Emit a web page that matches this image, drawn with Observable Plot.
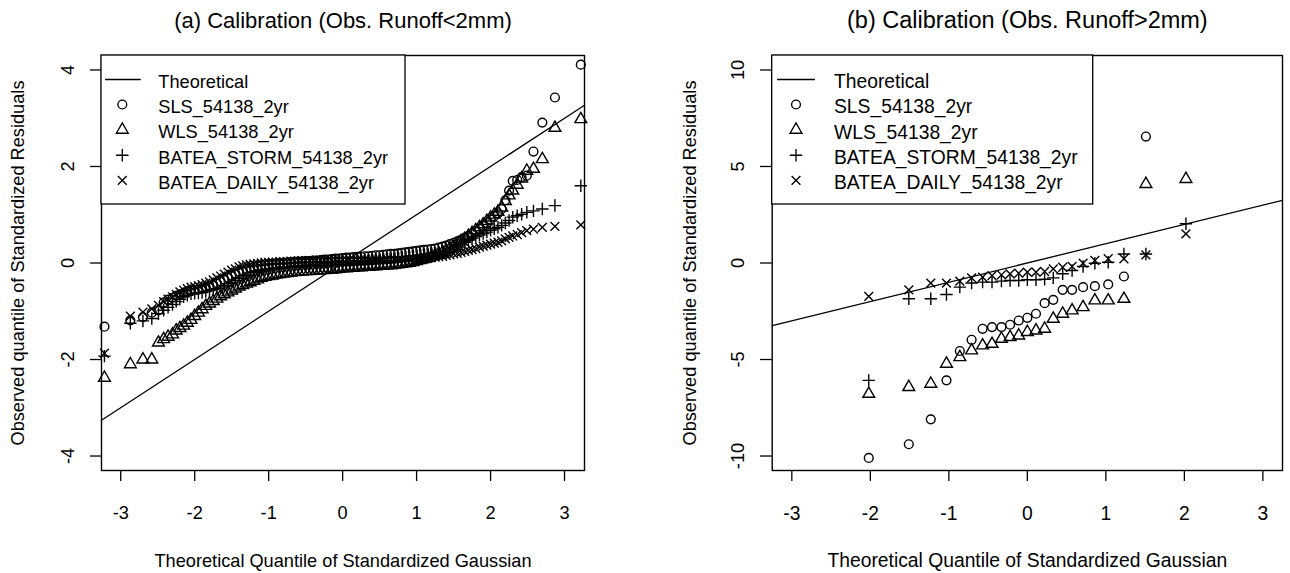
<!DOCTYPE html>
<html>
<head>
<meta charset="utf-8">
<script src="https://cdn.jsdelivr.net/npm/d3@7"></script>
<script src="https://cdn.jsdelivr.net/npm/@observablehq/plot@0.6"></script>
<style>
html,body{margin:0;padding:0;background:#fff;}
#root{position:relative;width:1290px;height:573px;overflow:hidden;background:#fff;}
#root svg{position:absolute;top:0;}
</style>
</head>
<body>
<div id="root"></div>
<script>
// ---------------- DATA ----------------
const titleA = "(a) Calibration (Obs. Runoff<2mm)";
const titleB = "(b) Calibration (Obs. Runoff>2mm)";
const xLabel = "Theoretical Quantile of Standardized Gaussian";
const yLabel = "Observed quantile of Standardized Residuals";
const legendLabels = ["Theoretical", "SLS_54138_2yr", "WLS_54138_2yr", "BATEA_STORM_54138_2yr", "BATEA_DAILY_54138_2yr"];
const xTicks = [-3, -2, -1, 0, 1, 2, 3];
const yTicksA = [-4, -2, 0, 2, 4];
const yTicksB = [-10, -5, 0, 5, 10];
const xDomainA = [-3.26, 3.27];
const yDomainA = [-4.3, 4.3];
const xDomainB = [-3.25, 3.25];
const yDomainB = [-10.75, 10.75];

// Panel (a): theoretical quantiles and observed residual quantiles
const qA = [
-3.22,-2.87,-2.70,-2.58,-2.49,-2.42,-2.36,-2.30,-2.25,-2.20,-2.15,-2.10,
-2.05,-2.00,-1.95,-1.90,-1.85,-1.80,-1.75,-1.70,-1.65,-1.60,
-1.55,-1.50,-1.45,-1.40,-1.35,-1.30,-1.25,-1.20,-1.15,-1.10,
-1.05,-1.00,-0.95,-0.90,-0.85,-0.80,-0.75,-0.70,-0.65,-0.60,
-0.55,-0.50,-0.45,-0.40,-0.35,-0.30,-0.25,-0.20,-0.15,-0.10,
-0.05,0.00,0.05,0.10,0.15,0.20,0.25,0.30,0.35,0.40,
0.45,0.50,0.55,0.60,0.65,0.70,0.75,0.80,0.85,0.90,
0.95,1.00,1.05,1.10,1.15,1.20,1.25,1.30,1.35,1.40,
1.45,1.50,1.55,1.60,1.65,1.70,1.75,1.80,1.85,1.90,
1.95,2.00,2.05,
2.10,2.15,2.20,2.25,2.30,2.36,2.42,2.49,2.58,2.70,2.87,3.22];
const slsA = [
-1.32,-1.19,-1.12,-1.03,-0.98,-0.82,-0.76,-0.72,-0.68,-0.65,-0.62,-0.59,
-0.57,-0.56,-0.55,-0.53,-0.51,-0.49,-0.46,-0.42,-0.38,-0.34,
-0.30,-0.26,-0.22,-0.18,-0.15,-0.12,-0.10,-0.08,-0.06,-0.05,
-0.04,-0.03,-0.02,-0.01,0.00,0.00,0.01,0.02,0.02,0.03,
0.03,0.04,0.04,0.05,0.05,0.06,0.07,0.07,0.08,0.09,
0.09,0.10,0.11,0.11,0.12,0.13,0.13,0.14,0.14,0.15,
0.16,0.16,0.17,0.18,0.19,0.19,0.20,0.21,0.22,0.23,
0.24,0.25,0.26,0.27,0.28,0.29,0.30,0.32,0.34,0.36,
0.39,0.42,0.45,0.48,0.52,0.56,0.61,0.66,0.71,0.77,
0.83,0.90,0.97,
1.03,1.12,1.30,1.50,1.70,1.72,1.78,1.81,2.31,2.91,3.43,4.11];
const wlsA = [
-2.38,-2.10,-2.00,-2.00,-1.65,-1.58,-1.53,-1.48,-1.40,-1.35,-1.30,-1.24,
-1.18,-1.10,-1.03,-0.96,-0.89,-0.84,-0.79,-0.74,-0.69,-0.65,
-0.61,-0.57,-0.53,-0.49,-0.46,-0.43,-0.40,-0.37,-0.34,-0.31,
-0.29,-0.27,-0.26,-0.24,-0.23,-0.22,-0.21,-0.20,-0.19,-0.18,
-0.18,-0.17,-0.17,-0.16,-0.16,-0.15,-0.15,-0.14,-0.14,-0.13,
-0.12,-0.11,-0.11,-0.10,-0.10,-0.09,-0.09,-0.08,-0.08,-0.07,
-0.07,-0.06,-0.06,-0.05,-0.05,-0.04,-0.03,-0.02,-0.01,0.00,
0.02,0.04,0.06,0.08,0.10,0.13,0.16,0.19,0.22,0.26,
0.30,0.35,0.40,0.45,0.50,0.56,0.62,0.68,0.74,0.80,
0.87,0.94,1.00,
1.06,1.15,1.28,1.40,1.50,1.62,1.75,1.91,1.95,2.15,2.80,2.98];
const stormA = [
-1.93,-1.25,-1.20,-1.15,-1.05,-0.98,-0.92,-0.86,-0.80,-0.75,-0.70,-0.67,
-0.64,-0.63,-0.62,-0.61,-0.59,-0.57,-0.55,-0.53,-0.50,-0.47,
-0.43,-0.40,-0.36,-0.32,-0.29,-0.26,-0.23,-0.20,-0.18,-0.16,
-0.14,-0.13,-0.12,-0.11,-0.10,-0.10,-0.09,-0.09,-0.08,-0.08,
-0.08,-0.08,-0.07,-0.07,-0.07,-0.06,-0.06,-0.06,-0.05,-0.05,
-0.05,-0.04,-0.04,-0.04,-0.03,-0.03,-0.03,-0.02,-0.02,-0.01,
-0.01,0.00,0.00,0.01,0.01,0.02,0.03,0.04,0.05,0.06,
0.07,0.08,0.09,0.11,0.12,0.14,0.16,0.18,0.20,0.23,
0.27,0.31,0.35,0.39,0.43,0.47,0.51,0.55,0.58,0.61,
0.64,0.68,0.71,
0.74,0.78,0.83,0.88,0.95,0.98,1.01,1.05,1.08,1.12,1.19,1.60];
const dailyA = [
-1.87,-1.10,-1.02,-0.95,-0.88,-0.80,-0.75,-0.70,-0.65,-0.60,-0.56,-0.53,
-0.50,-0.49,-0.47,-0.45,-0.42,-0.39,-0.35,-0.31,-0.27,-0.23,
-0.19,-0.15,-0.12,-0.08,-0.06,-0.04,-0.03,-0.02,-0.01,0.00,
0.01,0.01,0.02,0.02,0.03,0.03,0.03,0.04,0.04,0.05,
0.05,0.05,0.05,0.05,0.06,0.06,0.06,0.06,0.06,0.07,
0.07,0.07,0.07,0.07,0.07,0.07,0.07,0.07,0.07,0.07,
0.07,0.07,0.07,0.08,0.08,0.08,0.08,0.08,0.08,0.09,
0.09,0.09,0.09,0.10,0.10,0.11,0.12,0.13,0.14,0.16,
0.17,0.19,0.20,0.22,0.24,0.26,0.28,0.30,0.33,0.35,
0.37,0.39,0.41,
0.43,0.46,0.50,0.53,0.56,0.59,0.63,0.67,0.70,0.74,0.76,0.79];

// Panel (b)
const qB = [-2.02,-1.51,-1.23,-1.03,-0.86,-0.71,-0.57,-0.45,-0.33,-0.22,-0.11,0.00,0.11,0.22,0.33,0.45,0.57,0.71,0.86,1.03,1.23,1.51,2.02];
const slsB = [-10.10,-9.39,-8.10,-6.08,-4.56,-3.98,-3.41,-3.32,-3.32,-3.20,-2.98,-2.84,-2.63,-2.08,-1.91,-1.39,-1.39,-1.25,-1.20,-1.11,-0.70,6.55,null];
const wlsB = [-6.78,-6.43,-6.26,-5.22,-4.88,-4.53,-4.27,-4.19,-3.93,-3.84,-3.76,-3.58,-3.50,-3.41,-2.89,-2.63,-2.46,-2.29,-1.94,-1.94,-1.86,4.09,4.35];
const stormB = [-6.08,-1.85,-1.85,-1.63,-1.25,-1.04,-0.99,-0.99,-0.94,-0.91,-0.91,-0.87,-0.87,-0.84,-0.77,-0.56,-0.39,-0.18,-0.01,0.04,0.47,0.47,2.03];
const dailyB = [-1.73,-1.39,-1.04,-1.04,-0.94,-0.77,-0.73,-0.65,-0.61,-0.56,-0.53,-0.47,-0.47,-0.44,-0.30,-0.22,-0.18,-0.01,0.13,0.22,0.22,0.42,1.51];

// ---------------- RENDER ----------------
const FONT = '"Liberation Sans", Arial, Helvetica, sans-serif';
const RAD = 4.4;
const symCircle = {draw(c){ c.moveTo(RAD, 0); c.arc(0, 0, RAD, 0, 2 * Math.PI); c.closePath(); }};
const symTriangle = {draw(c){ const r = 1.5551 * RAD, xc = 1.3468 * RAD, yc = 0.7776 * RAD; c.moveTo(0, -r); c.lineTo(xc, yc); c.lineTo(-xc, yc); c.closePath(); }};
const symPlus = {draw(c){ const a = 1.414 * RAD; c.moveTo(-a, 0); c.lineTo(a, 0); c.moveTo(0, -a); c.lineTo(0, a); }};
const symTimes = {draw(c){ const a = RAD; c.moveTo(-a, -a); c.lineTo(a, a); c.moveTo(-a, a); c.lineTo(a, -a); }};
const symbols = [symCircle, symTriangle, symPlus, symTimes];
const seriesKeys = ["sls", "wls", "storm", "daily"];

const root = document.getElementById("root");

function addLegend(svg, L) {
  const g = d3.select(svg).append("g")
    .attr("font-family", FONT).attr("font-size", L.fs).attr("fill", "black").attr("text-anchor", "start");
  g.append("rect").attr("x", L.x).attr("y", 55).attr("width", L.w).attr("height", 149)
    .attr("fill", "white").attr("stroke", "black").attr("stroke-width", 1.3);
  const rows = [79.5, 104.5, 129.8, 155.2, 180.4];
  legendLabels.forEach((lab, i) => {
    const cy = rows[i];
    if (i === 0) {
      g.append("line").attr("x1", L.l1).attr("x2", L.l2).attr("y1", cy).attr("y2", cy)
        .attr("stroke", "black").attr("stroke-width", 1.3);
    } else {
      g.append("path").attr("transform", `translate(${L.sx},${cy})`)
        .attr("d", d3.symbol(symbols[i - 1])())
        .attr("fill", "none").attr("stroke", "black").attr("stroke-width", 1.35);
    }
    g.append("text").attr("x", L.tx).attr("y", cy + 2).attr("dy", "0.36em").attr("text-anchor", "start").text(lab);
  });
}

function makePanel(cfg) {
  const pts = cfg.q.map((x, i) => ({x, sls: cfg.sls[i], wls: cfg.wls[i], storm: cfg.storm[i], daily: cfg.daily[i]}));
  const svg = Plot.plot({
    width: cfg.width, height: 573,
    marginLeft: cfg.ml, marginRight: cfg.mr, marginTop: 55, marginBottom: 103,
    x: {domain: cfg.xDomain},
    y: {domain: cfg.yDomain},
    style: {background: "transparent", color: "black", fontFamily: FONT, overflow: "visible"},
    marks: [
      Plot.axisX({ticks: xTicks, tickSize: 11, tickFormat: () => "", label: null, strokeWidth: 1.3}),
      Plot.axisY({ticks: cfg.yTicks, tickSize: cfg.ytick, tickFormat: () => "", label: null, strokeWidth: 1.3}),
      Plot.text(xTicks, {x: d => d, text: d => String(d), frameAnchor: "bottom", dy: 43, lineAnchor: "middle", fontSize: cfg.fsH, fontFamily: FONT}),
      Plot.text(cfg.yTicks, {y: d => d, text: d => String(d), frameAnchor: "left", dx: cfg.ytdx, rotate: -90, textAnchor: "middle", lineAnchor: "middle", fontSize: cfg.fsV, fontFamily: FONT}),
      Plot.text([cfg.title], {text: d => d, frameAnchor: "top", dy: -35, lineAnchor: "middle", fontSize: cfg.fsT, fontFamily: FONT}),
      Plot.text([xLabel], {text: d => d, frameAnchor: "bottom", dy: cfg.xldy, lineAnchor: "middle", fontSize: cfg.fsH, fontFamily: FONT}),
      Plot.text([yLabel], {text: d => d, frameAnchor: "left", dx: cfg.yldx, rotate: -90, textAnchor: "middle", lineAnchor: "middle", fontSize: cfg.fsV, fontFamily: FONT}),
      Plot.line(cfg.xDomain, {x: d => d, y: d => d, stroke: "black", strokeWidth: 1.3}),
      ...seriesKeys.map((k, i) => Plot.dot(pts, {x: "x", y: k, symbol: symbols[i], r: RAD, fill: "none", stroke: "black", strokeWidth: 1.4})),
      Plot.frame({stroke: "black", strokeWidth: 1.4})
    ]
  });
  svg.style.left = cfg.left + "px";
  addLegend(svg, cfg.legend);
  root.appendChild(svg);
}

makePanel({
  left: 0, width: 645, ml: 101, mr: 61,
  q: qA, sls: slsA, wls: wlsA, storm: stormA, daily: dailyA,
  xDomain: xDomainA, yDomain: yDomainA, yTicks: yTicksA, ytick: 11,
  title: titleA, fsH: 18.2, fsV: 18.2, fsT: 22,
  ytdx: -33, yldx: -83.5, xldy: 91,
  legend: {x: 101, w: 304, l1: 105, l2: 140.7, sx: 122.3, tx: 158.3, fs: 18.2}
});
makePanel({
  left: 645, width: 645, ml: 126.7, mr: 8,
  q: qB, sls: slsB, wls: wlsB, storm: stormB, daily: dailyB,
  xDomain: xDomainB, yDomain: yDomainB, yTicks: yTicksB, ytick: 11.7,
  title: titleB, fsH: 19.3, fsV: 18.2, fsT: 23.5,
  ytdx: -33.7, yldx: -81.7, xldy: 90,
  legend: {x: 126.7, w: 321, l1: 132, l2: 170, sx: 151, tx: 189, fs: 19.3}
});
</script>
</body>
</html>
